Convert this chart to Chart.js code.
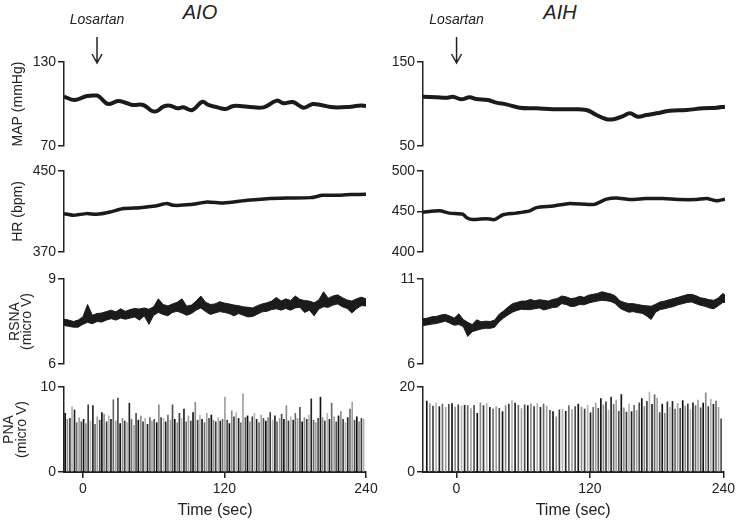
<!DOCTYPE html>
<html>
<head>
<meta charset="utf-8">
<script src="https://cdn.jsdelivr.net/npm/chart.js@4.4.0/dist/chart.umd.min.js"></script>
<style>
  body { margin: 0; background: #fff; width: 736px; height: 525px; position: relative; overflow: hidden;
         font-family: Arial, "Liberation Sans", Helvetica, sans-serif; }
  canvas { position: absolute; }
  .group { position: absolute; top: 0; font-style: italic; font-size: 20px; line-height: 24px; color: #222;
           transform: translateX(-50%); }
</style>
</head>
<body>
<div class="group" style="left:200px">AIO</div>
<div class="group" style="left:560px">AIH</div>
<script>
// ---- data ----
const timeTicks = [0, 120, 240];
const aioTimeRange = [-16, 240];
const aihTimeRange = [-30, 240];
const losartanAio = 12;
const losartanAih = 0;

const mapAioTicks = [70, 130];
const mapAihTicks = [50, 150];
const hrAioTicks = [370, 450];
const hrAihTicks = [400, 450, 500];
const rsnaAioTicks = [6, 9];
const rsnaAihTicks = [6, 11];
const pnaAioTicks = [0, 10];
const pnaAihTicks = [0, 20];

// [time (s), mmHg]
const mapAio = [[-16,105.2],[-6.8,102.9],[3.4,105.7],[11.9,106],[14.5,104.8],[21.3,100],[29.8,102.1],[37.4,100.5],
  [42.6,99.3],[51.1,99.3],[58.7,95],[63,95],[68.1,98.1],[74,98.8],[80,96.9],[85.1,97.6],[92.8,95.7],[101.3,101.6],
  [106.4,99.3],[114,97.6],[120.9,96.4],[127.7,98.6],[139.6,98.1],[153.2,97.6],[164.3,102.4],[170.2,100.5],
  [177.9,101.4],[187.2,97.4],[194.9,100],[201.7,99.3],[212.8,97.6],[227.2,98.1],[235.7,99],[240,98.6]];
const mapAih = [[-30,108.7],[-18.2,108],[-7.8,107.5],[-3.3,108.7],[4.2,105.6],[11.6,108],[17.6,106],[28,104.8],
  [35.5,101.6],[44.5,99.6],[56.4,95.6],[71.4,94.9],[86.2,93.7],[101.2,93.7],[116.1,92.9],[125.1,86.9],[134,81.8],
  [141.4,82.1],[148.9,85.7],[154.9,88.9],[162.3,84.9],[169.8,86.9],[178.8,88.9],[190.7,92],[205.6,92.9],
  [220.5,94.9],[232.5,95.6],[240,96.8]];

// [time (s), bpm]
const hrAio = [[-16,407.9],[-8.3,406.3],[3.1,407.9],[11.7,407.2],[23,409.5],[34.3,412.9],[48.5,413.8],[61.3,415.4],
  [71.2,417.8],[76.9,416.1],[91.1,416.8],[105.3,419.4],[119.4,418.4],[139.3,421.1],[156.3,422.7],[173.4,423.3],
  [193.2,423.7],[203.1,426],[213,426],[227.2,426.7],[240,427]];
const hrAih = [[-30,449.2],[-15.2,450.8],[-6.3,448],[5.6,446.8],[8.7,442.7],[14.6,440],[26.6,441.2],[34,440],
  [41.5,446],[53.4,448],[65.4,450.8],[71.4,454.8],[86.2,456.8],[101.2,460],[116.1,458.8],[123.5,458.8],[134,465.2],
  [143,466.8],[154.9,464.8],[169.8,466],[184.7,466],[199.6,464.8],[214.6,464.8],[223.5,466],[232.5,463.2],[240,465.2]];

// RSNA envelope (micro V)
const rsnaAioTime = [-16,-12,-8,-4,0,4,8,12,16,20,24,28,32,36,40,44,48,52,56,60,64,68,72,76,80,84,88,92,96,100,
  104,108,112,116,120,124,128,132,136,140,144,148,152,156,160,164,168,172,176,180,184,188,192,196,200,204,208,212,
  216,220,224,228,232,236,240];
const rsnaAioHigh = [7.58,7.55,7.50,7.55,7.66,8.10,7.72,7.78,7.80,7.85,7.90,7.84,7.95,7.86,7.92,7.96,7.94,7.98,7.93,8.02,
  8.30,8.10,8.05,8.12,8.18,8.30,8.04,8.08,8.22,8.40,8.18,8.10,8.12,8.20,8.15,8.12,8.08,8.06,8.02,8.00,
  7.98,8.06,8.12,8.16,8.22,8.35,8.22,8.30,8.24,8.40,8.28,8.24,8.22,8.16,8.26,8.55,8.32,8.40,8.44,8.34,
  8.26,8.22,8.30,8.36,8.30];
const rsnaAioLow = [7.36,7.33,7.30,7.30,7.40,7.47,7.42,7.50,7.48,7.55,7.60,7.55,7.62,7.58,7.62,7.66,7.55,7.70,7.40,7.72,
  7.82,7.75,7.70,7.82,7.86,7.80,7.72,7.78,7.90,7.98,7.85,7.75,7.80,7.85,7.82,7.78,7.70,7.78,7.72,7.66,
  7.68,7.76,7.84,7.86,7.92,7.95,7.90,7.96,7.90,7.98,8.00,7.82,7.90,7.70,7.94,8.02,8.00,8.08,8.12,8.02,
  7.96,7.80,7.95,8.06,8.05];
const rsnaAihTime = [-30,-26,-22,-18,-14,-10,-6,-2,2,6,10,14,18,22,26,30,34,38,42,46,50,54,58,62,66,70,74,78,82,86,
  90,94,98,102,106,110,114,118,122,126,130,134,138,142,146,150,154,158,162,166,170,174,178,182,186,190,194,198,
  202,206,210,214,218,222,226,230,234,238,240];
const rsnaAihHigh = [8.66,8.70,8.78,8.80,8.88,8.92,8.82,8.70,8.95,8.62,8.45,8.32,8.60,8.48,8.52,8.50,8.58,8.92,9.12,9.35,
  9.55,9.62,9.70,9.70,9.80,9.72,9.78,9.75,9.70,9.80,9.85,10.00,9.95,9.85,9.88,9.98,9.92,10.05,10.10,10.15,
  10.25,10.18,10.12,10.00,9.72,9.62,9.55,9.55,9.50,9.45,9.42,9.40,9.52,9.65,9.70,9.78,9.85,9.92,10.00,10.08,
  10.10,10.02,9.90,9.85,9.78,9.75,9.88,10.15,10.05];
const rsnaAihLow = [8.26,8.30,8.35,8.38,8.45,8.52,8.40,8.28,8.32,8.20,7.62,7.90,7.98,8.06,8.10,8.10,8.16,8.48,8.70,8.88,
  9.05,9.15,9.22,9.20,9.20,9.25,9.30,9.18,9.25,9.32,9.35,9.55,9.50,9.38,9.40,9.50,9.48,9.58,9.65,9.70,
  9.75,9.72,9.68,9.55,9.28,9.15,9.05,9.08,9.02,8.98,8.82,8.62,9.05,9.20,9.25,9.32,9.38,9.48,9.55,9.62,
  9.65,9.55,9.45,9.40,9.30,9.25,9.42,9.62,9.62];

// PNA bursts: [time (s), peak micro V]
const pnaAio = [[-15.0,6.9],[-13.1,6.2],[-11.0,6.3],[-9.2,7.7],[-7.1,7.3],[-5.3,5.8],[-3.2,6.4],[-1.3,5.9],[0.6,6.2],[2.6,5.7],
  [4.5,7.9],[6.4,6.0],[8.5,7.8],[10.3,5.6],[12.2,6.5],[14.3,6.1],[16.1,7.0],[18.0,6.8],[20.1,5.9],[22.0,6.6],
  [23.8,6.2],[25.8,8.5],[27.9,6.0],[29.7,8.7],[31.6,5.7],[33.6,6.3],[35.5,6.0],[37.5,5.8],[39.4,8.1],[41.2,6.2],
  [43.3,5.5],[45.1,6.9],[47.0,6.1],[49.1,6.6],[51.0,5.9],[52.8,6.3],[54.8,5.6],[56.8,6.4],[58.6,6.0],[60.5,6.2],
  [62.6,5.8],[64.4,7.9],[66.3,6.4],[68.4,6.3],[70.2,5.9],[72.1,6.7],[74.2,6.1],[76.0,7.9],[77.9,6.2],[80.0,5.8],
  [81.8,6.9],[83.7,6.3],[85.7,7.4],[87.6,5.9],[89.5,6.6],[91.5,6.0],[93.4,7.0],[95.3,8.2],[97.3,6.1],[99.2,6.7],
  [101.0,6.2],[103.1,5.8],[105.0,6.9],[106.9,6.3],[108.9,6.7],[110.7,6.1],[112.6,5.9],[114.7,6.4],[116.5,6.0],[118.4,6.2],
  [120.4,8.8],[122.3,6.1],[124.2,5.7],[126.2,7.2],[128.1,6.5],[130.0,7.0],[132.0,6.3],[133.8,5.8],[135.7,9.2],[137.8,6.4],
  [139.6,6.6],[141.5,5.9],[143.6,6.5],[145.4,6.9],[147.3,6.2],[149.3,5.8],[151.2,6.7],[153.1,6.3],[155.1,6.0],[157.0,6.4],
  [158.8,7.0],[160.9,6.1],[162.8,6.6],[164.6,5.9],[166.7,6.3],[168.5,6.8],[170.4,6.2],[172.5,7.8],[174.3,6.0],[176.2,6.5],
  [178.3,6.1],[180.1,6.9],[182.0,6.3],[184.0,7.6],[185.9,5.9],[187.8,6.4],[189.8,6.2],[191.7,6.7],[193.6,8.6],[195.6,6.1],
  [197.5,5.8],[199.4,6.3],[201.4,8.8],[203.2,6.4],[205.1,6.0],[207.2,6.9],[209.0,6.2],[210.9,8.1],[213.0,6.5],[214.8,5.9],
  [216.7,6.6],[218.7,7.1],[220.6,6.2],[222.5,5.8],[224.5,6.4],[226.4,7.4],[228.3,8.2],[230.3,6.1],[232.2,6.5],[234.1,5.9],
  [236.1,6.3],[238.0,6.2]];
const pnaAih = [[-26.6,16.7],[-23.8,16.1],[-21.0,15.5],[-18.2,16.3],[-15.3,15.4],[-12.5,16.0],[-9.6,15.2],[-6.8,15.9],
  [-3.9,16.1],[-1.1,15.3],[1.7,15.8],[4.6,15.5],[7.4,15.7],[10.2,15.6],[13.1,14.9],[15.9,15.7],[18.8,13.8],[21.6,16.3],
  [24.4,15.6],[27.3,16.1],[30.1,15.2],[33.0,14.8],[35.8,15.4],[38.6,15.0],[41.5,14.2],[44.3,15.6],[47.2,16.0],[50.0,16.8],
  [52.8,16.2],[55.7,15.7],[58.5,14.9],[61.4,15.8],[64.2,15.6],[67.0,16.0],[69.9,15.4],[72.7,16.1],[75.6,15.2],[78.4,16.0],
  [81.2,15.5],[84.1,14.5],[86.9,14.2],[89.8,13.0],[92.6,14.6],[95.4,14.8],[98.3,14.3],[101.1,15.6],[104.0,14.7],[106.8,15.4],
  [109.6,16.0],[112.5,15.3],[115.3,14.8],[118.0,15.7],[120.6,13.9],[123.0,15.2],[125.3,16.2],[127.6,15.0],[129.9,17.3],
  [132.2,15.8],[134.5,16.5],[136.8,14.6],[139.1,17.6],[141.4,15.9],[143.7,16.9],[146.0,14.3],[148.3,18.2],[150.6,15.1],
  [152.9,14.1],[155.2,16.0],[157.5,14.2],[159.8,15.7],[162.1,14.5],[164.4,16.3],[166.7,17.3],[169.0,15.4],[171.3,16.6],
  [173.6,18.8],[175.9,15.9],[178.2,18.2],[180.5,17.4],[182.8,14.0],[185.1,16.0],[187.4,13.8],[189.7,16.5],[192.0,15.2],
  [194.3,16.6],[196.6,14.8],[198.9,16.1],[201.2,15.0],[203.5,16.8],[205.8,15.5],[208.1,16.0],[210.4,14.7],[212.7,16.3],
  [215.0,15.6],[217.3,16.9],[219.6,15.1],[221.9,16.2],[224.2,18.6],[226.5,15.4],[228.8,17.1],[231.1,15.9],[233.4,16.7],
  [235.7,15.2],[238.0,12.5]];

// ---- styling / layout ----
const FONT = 'Arial, "Liberation Sans", Helvetica, sans-serif';
const INK = '#222';
const TRACE = '#1b1b1b';
const burstShades = ['#111111', '#8c8c8c', '#3c3c3c', '#b4b4b4', '#222222', '#6a6a6a', '#a0a0a0', '#4d4d4d'];

Chart.defaults.font.family = FONT;
Chart.defaults.color = INK;
Chart.defaults.animation = false;

const columns = {
    aio: { left: 0, width: 384, axisWidth: 64, padRight: 18, range: aioTimeRange, marker: losartanAio },
    aih: { left: 370, width: 368, axisWidth: 53, padRight: 13, range: aihTimeRange, marker: losartanAih },
};
const rows = {
    map: { top: 0, height: 160, padTop: 62, padBottom: 14 },
    hr: { top: 155, height: 110, padTop: 16, padBottom: 13 },
    rsna: { top: 265, height: 112, padTop: 14, padBottom: 13 },
    pna: { top: 375, height: 150, padTop: 12, padBottom: 0 },
};
const rowTitles = {
    map: { text: 'MAP (mmHg)', lineHeight: '12px', pad: 12 },
    hr: { text: 'HR (bpm)', lineHeight: '12px', pad: 12 },
    rsna: { text: ['RSNA', '(micro V)'], lineHeight: '12px', pad: 9.5 },
    pna: { text: ['PNA', '(micro V)'], lineHeight: '13px', pad: 3 },
};

const toPoints = (pairs) => pairs.map(([x, y]) => ({ x, y }));
const zipPoints = (times, values) => times.map((x, i) => ({ x, y: values[i] }));

// arrow + "Losartan" label above the top panels
const losartanMarker = {
    id: 'losartanMarker',
    afterDraw(chart, args, opts) {
        if (opts.time === undefined || opts.time === null) {
            return;
        }
        const { ctx, chartArea } = chart;
        const x = chart.scales.x.getPixelForValue(opts.time);
        const tip = chartArea.top + 1;
        ctx.save();
        ctx.fillStyle = INK;
        ctx.strokeStyle = INK;
        ctx.font = `italic 14px ${FONT}`;
        ctx.textAlign = 'center';
        ctx.textBaseline = 'middle';
        ctx.fillText('Losartan', x, 20);
        ctx.lineWidth = 1.5;
        ctx.beginPath();
        ctx.moveTo(x, 37);
        ctx.lineTo(x, tip);
        ctx.moveTo(x - 5, tip - 9);
        ctx.lineTo(x, tip);
        ctx.lineTo(x + 5, tip - 9);
        ctx.stroke();
        ctx.restore();
    },
};

const makePanel = (colKey, rowKey, yTicks, datasets, type) => {
    const col = columns[colKey];
    const row = rows[rowKey];
    const canvas = document.createElement('canvas');
    canvas.width = col.width;
    canvas.height = row.height;
    canvas.style.left = `${col.left}px`;
    canvas.style.top = `${row.top}px`;
    document.body.appendChild(canvas);

    const isBottom = rowKey === 'pna';
    const title = colKey === 'aio' ? rowTitles[rowKey] : null;

    const xScale = isBottom ? {
        type: 'linear',
        position: 'bottom',
        offset: false,
        min: col.range[0],
        max: col.range[1],
        afterBuildTicks: (scale) => { scale.ticks = timeTicks.map((value) => ({ value })); },
        afterFit: (scale) => { scale.height = 525 - 472; },
        grid: { display: true, offset: false, drawOnChartArea: false, drawTicks: true, tickLength: 6, color: INK, lineWidth: 1.5 },
        border: { display: true, color: INK, width: 2 },
        ticks: { font: { size: 14 }, color: INK, padding: 3, maxRotation: 0, autoSkip: false },
        title: { display: true, text: 'Time (sec)', color: INK, font: { size: 16 }, padding: { top: 0, bottom: 5 } },
    } : {
        type: 'linear',
        offset: false,
        min: col.range[0],
        max: col.range[1],
        display: false,
    };

    return new Chart(canvas.getContext('2d'), {
        type,
        data: { datasets },
        options: {
            responsive: false,
            events: [],
            layout: { padding: { top: row.padTop, bottom: row.padBottom, left: 0, right: col.padRight } },
            scales: {
                x: xScale,
                y: {
                    type: 'linear',
                    position: 'left',
                    min: yTicks[0],
                    max: yTicks[yTicks.length - 1],
                    afterBuildTicks: (scale) => { scale.ticks = yTicks.map((value) => ({ value })); },
                    afterFit: (scale) => { scale.width = col.axisWidth; },
                    grid: { display: true, drawOnChartArea: false, drawTicks: true, tickLength: 6, color: INK, lineWidth: 1.5 },
                    border: { display: true, color: INK, width: 1.5 },
                    ticks: { font: { size: 14 }, color: INK, padding: 2 },
                    title: title ? {
                        display: true,
                        text: title.text,
                        color: INK,
                        font: { size: 14, lineHeight: title.lineHeight },
                        padding: { top: title.pad, bottom: 0 },
                    } : { display: false },
                },
            },
            plugins: {
                legend: { display: false },
                tooltip: { enabled: false },
                losartanMarker: { time: rowKey === 'map' ? col.marker : null },
            },
        },
        plugins: [losartanMarker],
    });
};

const traceLine = (data, width, tension) => ({
    data,
    borderColor: TRACE,
    borderWidth: width,
    pointRadius: 0,
    tension,
    fill: false,
});

const envelope = (times, low, high) => ([
    { data: zipPoints(times, low), borderColor: TRACE, borderWidth: 1, pointRadius: 0, tension: 0, fill: false },
    { data: zipPoints(times, high), borderColor: TRACE, borderWidth: 1, pointRadius: 0, tension: 0,
      fill: '-1', backgroundColor: TRACE },
]);

const bursts = (pairs) => ([{
    data: toPoints(pairs),
    backgroundColor: (ctx) => burstShades[ctx.dataIndex % burstShades.length],
    borderWidth: 0,
    barThickness: 1,
}]);

makePanel('aio', 'map', mapAioTicks, [traceLine(toPoints(mapAio), 4, 0.4)], 'line');
makePanel('aih', 'map', mapAihTicks, [traceLine(toPoints(mapAih), 4, 0.4)], 'line');
makePanel('aio', 'hr', hrAioTicks, [traceLine(toPoints(hrAio), 3.5, 0.2)], 'line');
makePanel('aih', 'hr', hrAihTicks, [traceLine(toPoints(hrAih), 3.5, 0.2)], 'line');
makePanel('aio', 'rsna', rsnaAioTicks, envelope(rsnaAioTime, rsnaAioLow, rsnaAioHigh), 'line');
makePanel('aih', 'rsna', rsnaAihTicks, envelope(rsnaAihTime, rsnaAihLow, rsnaAihHigh), 'line');
makePanel('aio', 'pna', pnaAioTicks, bursts(pnaAio), 'bar');
makePanel('aih', 'pna', pnaAihTicks, bursts(pnaAih), 'bar');
</script>
</body>
</html>
